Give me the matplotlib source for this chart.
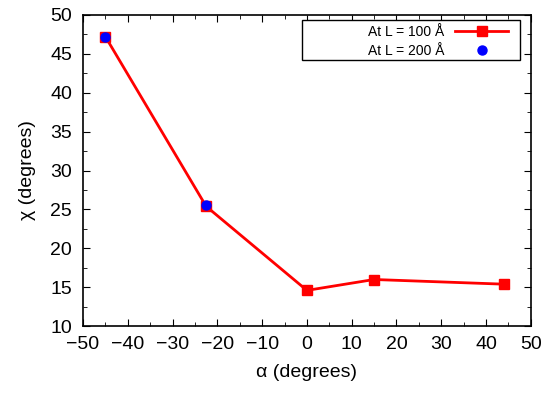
import matplotlib
matplotlib.use('Agg')
import matplotlib.pyplot as plt
from matplotlib.ticker import MultipleLocator
from matplotlib.patches import Rectangle

plt.rcParams['font.family'] = ['Liberation Sans', 'DejaVu Sans']

# data
alpha_100 = [-45, -22.5, 0, 15, 44]
chi_100 = [47.2, 25.4, 14.6, 16.0, 15.4]
alpha_200 = [-45, -22.5]
chi_200 = [47.2, 25.6]

fig, ax = plt.subplots(figsize=(5.5, 3.93), dpi=100)

ax.plot(alpha_100, chi_100, color='red', lw=2, marker='s', ms=7.5,
        label='At L = 100 Å')
ax.plot(alpha_200, chi_200, ls='none', color='blue', marker='o', ms=6.5,
        label='At L = 200 Å')

ax.set_xlim(-50, 50)
ax.set_ylim(10, 50)
ax.xaxis.set_major_locator(MultipleLocator(10))
ax.xaxis.set_minor_locator(MultipleLocator(5))
ax.yaxis.set_major_locator(MultipleLocator(5))
ax.yaxis.set_minor_locator(MultipleLocator(2.5))
ax.tick_params(which='both', direction='in', top=True, right=True, labelsize=14)
ax.tick_params(which='major', length=5)
ax.tick_params(which='minor', length=3)
ax.tick_params(axis='x', pad=7)
ax.tick_params(axis='y', pad=8)
for s in ax.spines.values():
    s.set_linewidth(1.2)

ax.set_xlabel('α (degrees)', fontsize=14, labelpad=8)
ax.set_ylabel('χ (degrees)', fontsize=14, labelpad=10)

# legend box, drawn separately so it can be wider than its contents
box = Rectangle((0.49, 0.856), 0.485, 0.128, transform=ax.transAxes,
                facecolor='white', edgecolor='black', lw=1, zorder=4)
ax.add_patch(box)
leg = ax.legend(loc='upper right', markerfirst=False, frameon=False,
                fontsize=10, bbox_to_anchor=(0.949, 0.968),
                borderaxespad=0, borderpad=0, handlelength=3.8,
                handletextpad=0.8, labelspacing=0.37)
leg.set_zorder(5)

fig.subplots_adjust(left=0.151, right=0.965, top=0.962, bottom=0.17)
fig.savefig('out.png')
